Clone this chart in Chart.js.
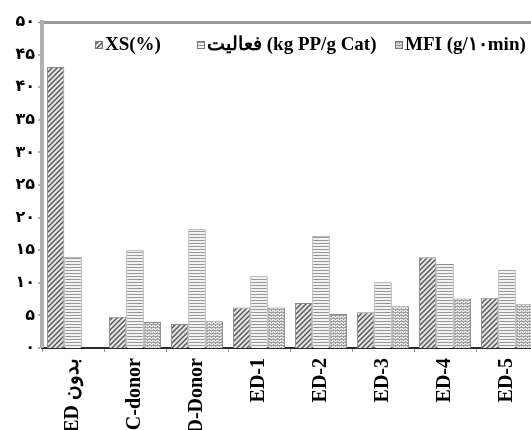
<!DOCTYPE html>
<html>
<head>
<meta charset="utf-8">
<script src="https://cdn.jsdelivr.net/npm/chart.js@4"></script>
<style>
  html, body { margin: 0; padding: 0; background: #fff; overflow: hidden; }
  #wrap { width: 531px; height: 430px; overflow: hidden; position: relative; }
  canvas { display: block; }
</style>
</head>
<body>
<div id="wrap"><canvas id="chart" width="545" height="430"></canvas></div>
<script>
const categories = ['ED بدون', 'C-donor', 'D-Donor', 'ED-1', 'ED-2', 'ED-3', 'ED-4', 'ED-5'];
const xsValues = [43.1, 4.8, 3.7, 6.2, 6.9, 5.5, 13.9, 7.7];
const activityValues = [14.0, 15.0, 18.2, 11.0, 17.2, 10.1, 12.9, 12.0];
const mfiValues = [null, 4.0, 4.1, 6.2, 5.2, 6.4, 7.6, 6.7];
const seriesLabels = ['XS(%)', 'فعالیت (kg PP/g Cat)', 'MFI (g/۱۰min)'];
const yMin = 0, yMax = 50, yStep = 5;

const persianDigits = '۰۱۲۳۴۵۶۷۸۹';
const toPersian = n => String(n).replace(/\d/g, d => persianDigits[d]);

// fill patterns for the bars
function makePattern(w, h, draw) {
    const c = document.createElement('canvas');
    c.width = w; c.height = h;
    draw(c.getContext('2d'));
    return document.getElementById('chart').getContext('2d').createPattern(c, 'repeat');
}
const hatch = makePattern(5, 5, g => {
    g.fillStyle = '#e4e4e4'; g.fillRect(0, 0, 5, 5);
    g.strokeStyle = '#555'; g.lineWidth = 1.4;
    g.beginPath();
    g.moveTo(0, 5); g.lineTo(5, 0);
    g.moveTo(-1, 1); g.lineTo(1, -1);
    g.moveTo(4, 6); g.lineTo(6, 4);
    g.stroke();
});
const stripes = makePattern(3, 3, g => {
    g.fillStyle = '#f2f2f2'; g.fillRect(0, 0, 3, 3);
    g.fillStyle = '#999'; g.fillRect(0, 0, 3, 1);
});
const checks = makePattern(4, 3, g => {
    g.fillStyle = '#e6e6e6'; g.fillRect(0, 0, 4, 3);
    g.fillStyle = '#a0a0a0';
    g.fillRect(0, 0, 4, 1);
    g.fillRect(1, 2, 1, 1); g.fillRect(3, 1, 1, 1);
});
const fills = [hatch, stripes, checks];

// legend drawn inside the plot area, like the original figure
const innerLegend = {
    id: 'innerLegend',
    afterDatasetsDraw(chart) {
        const { ctx, chartArea } = chart;
        const offsets = [53, 155, 353];
        const y = chartArea.top + 23;
        ctx.save();
        ctx.font = 'bold 19px "Liberation Serif", "DejaVu Serif", serif';
        ctx.textBaseline = 'middle';
        ctx.textAlign = 'left';
        chart.data.datasets.forEach((ds, i) => {
            const x = chartArea.left + offsets[i];
            ctx.fillStyle = ds.backgroundColor;
            ctx.fillRect(x, y - 4, 8, 8);
            ctx.strokeStyle = '#777';
            ctx.lineWidth = 1;
            ctx.strokeRect(x + 0.5, y - 3.5, 7, 7);
            ctx.fillStyle = '#000';
            ctx.fillText(ds.label, x + 10, y);
        });
        ctx.restore();
    }
};

new Chart(document.getElementById('chart'), {
    type: 'bar',
    data: {
        labels: categories,
        datasets: [
            { label: seriesLabels[0], data: xsValues, backgroundColor: fills[0] },
            { label: seriesLabels[1], data: activityValues, backgroundColor: fills[1] },
            { label: seriesLabels[2], data: mfiValues, backgroundColor: fills[2] }
        ].map(ds => Object.assign(ds, {
            borderColor: '#8a8a8a',
            borderWidth: 1,
            categoryPercentage: 0.84,
            barPercentage: 1.0
        }))
    },
    options: {
        responsive: false,
        animation: false,
        layout: { padding: { top: 22, right: 7, left: 0, bottom: 0 } },
        plugins: {
            legend: { display: false },
            tooltip: { enabled: false }
        },
        scales: {
            x: {
                afterFit: s => { s.height = 82; },
                grid: { display: true, drawOnChartArea: false, tickLength: 4, tickColor: '#999', lineWidth: 1 },
                border: { display: true, color: '#2a2a2a', width: 2 },
                ticks: {
                    autoSkip: false,
                    minRotation: 90,
                    maxRotation: 90,
                    padding: 6,
                    color: '#000',
                    font: { family: '"Liberation Serif", "DejaVu Serif", serif', size: 20, weight: 'bold' }
                }
            },
            y: {
                min: yMin,
                max: yMax,
                afterFit: s => { s.width = 42; },
                grid: {
                    drawOnChartArea: true,
                    color: c => c.tick && c.tick.value === yMax ? '#9a9a9a' : 'rgba(0,0,0,0)',
                    lineWidth: c => c.tick && c.tick.value === yMax ? 3 : 0,
                    tickColor: '#999',
                    tickWidth: 1.5,
                    tickLength: 4
                },
                border: { display: true, color: '#b0b0b0', width: 4 },
                ticks: {
                    stepSize: yStep,
                    padding: 3,
                    color: '#000',
                    callback: v => toPersian(v),
                    font: { family: '"DejaVu Sans", sans-serif', size: 16, weight: 'bold' }
                }
            }
        }
    },
    plugins: [innerLegend]
});
</script>
</body>
</html>
